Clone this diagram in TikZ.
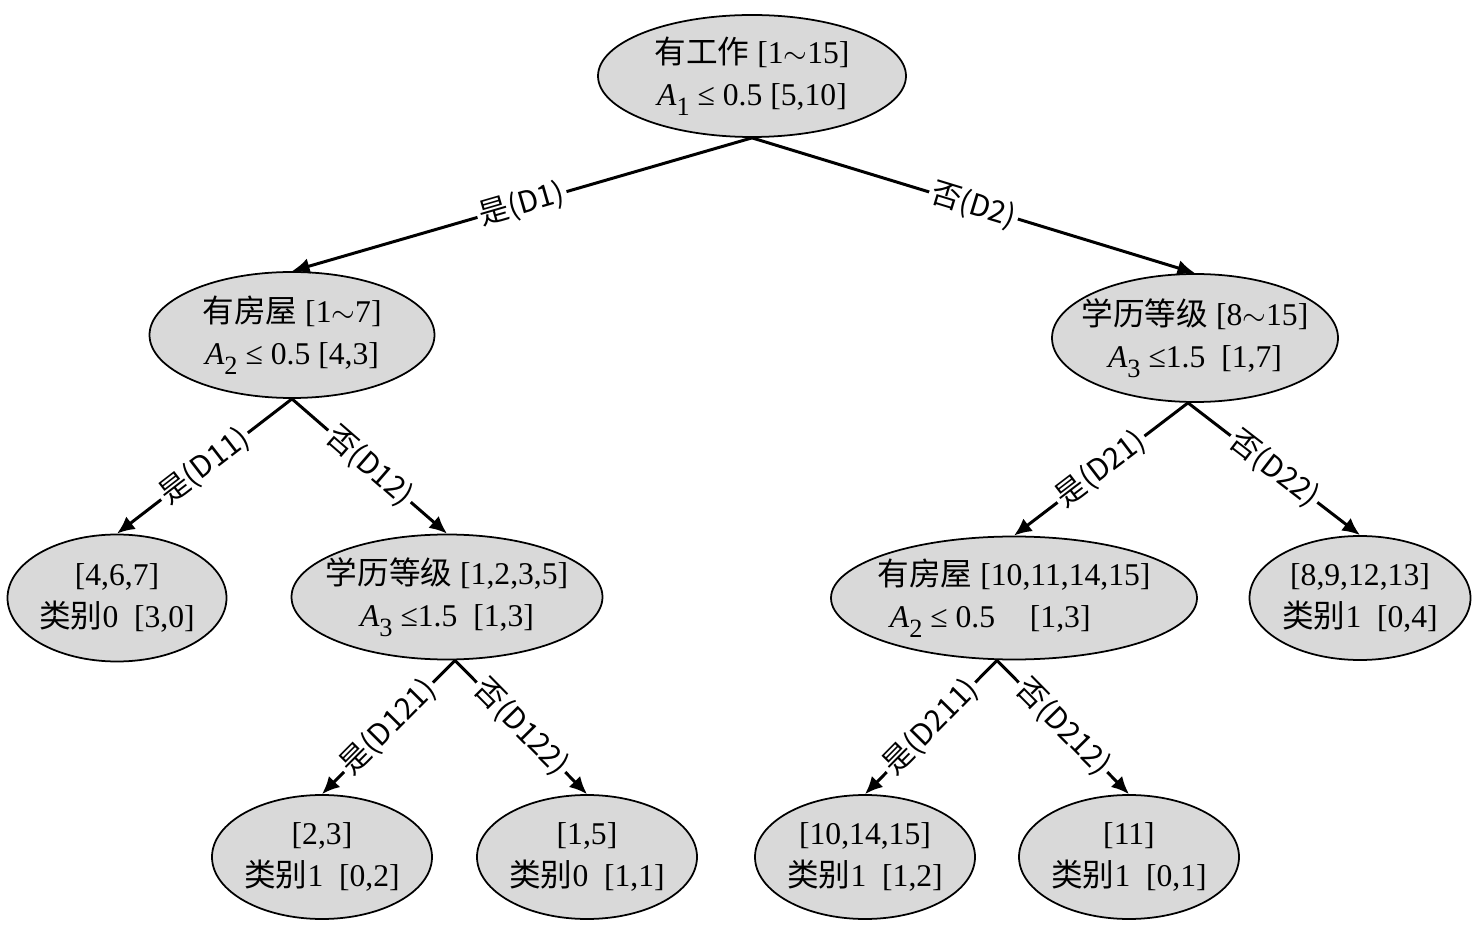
\documentclass[tikz,border=0pt]{standalone}
\usepackage{fontspec}
\setmainfont{Liberation Serif}
\newfontfamily\cjk{Noto Sans CJK SC}
\usetikzlibrary{arrows.meta,shapes.geometric}
\definecolor{nodegray}{RGB}{217,217,217}
\newcommand{\attr}[1]{{\itshape A}\raisebox{-0.3em}{\fontsize{15}{15}\selectfont #1}}

\begin{document}
\begin{tikzpicture}[
  ell/.style={ellipse, draw, line width=1pt, fill=nodegray, inner sep=0pt},
  txt/.style={align=center, inner sep=0pt, font=\fontsize{18}{24}\selectfont},
  link/.style={line width=1.7pt, -{Latex[length=10pt,width=9pt]}},
  cond/.style={sloped, fill=white, inner sep=1.5pt, font=\cjk\fontsize{17}{20}\selectfont}]
\useasboundingbox (0,0) rectangle (29.64,-18.6);

% Nodes
\node[ell, minimum width=6.16cm, minimum height=2.44cm,
  label={[txt]center:{{\cjk 有工作} [1$\sim$15]\\\attr{1} ≤ 0.5 [5,10]}}] (root) at (15.04,-1.52) {};
\node[ell, minimum width=5.70cm, minimum height=2.52cm,
  label={[txt]center:{{\cjk 有房屋} [1$\sim$7]\\\attr{2} ≤ 0.5 [4,3]}}] (d1) at (5.84,-6.70) {};
\node[ell, minimum width=5.72cm, minimum height=2.56cm,
  label={[txt]center:{{\cjk 学历等级} [8$\sim$15]\\\attr{3} ≤1.5\ \ [1,7]}}] (d2) at (23.90,-6.76) {};
\node[ell, minimum width=4.38cm, minimum height=2.54cm,
  label={[txt]center:{[4,6,7]\\{\cjk 类别}0\ \ [3,0]}}] (d11) at (2.34,-11.96) {};
\node[ell, minimum width=6.22cm, minimum height=2.50cm,
  label={[txt]center:{{\cjk 学历等级} [1,2,3,5]\\\attr{3} ≤1.5\ \ [1,3]}}] (d12) at (8.94,-11.94) {};
\node[ell, minimum width=7.32cm, minimum height=2.46cm,
  label={[txt]center:{{\cjk 有房屋} [10,11,14,15]\\\attr{2} ≤ 0.5\hspace{1.1em}[1,3]\hspace*{1.5em}}}] (d21) at (20.28,-11.96) {};
\node[ell, minimum width=4.42cm, minimum height=2.48cm,
  label={[txt]center:{[8,9,12,13]\\{\cjk 类别}1\ \ [0,4]}}] (d22) at (27.20,-11.96) {};
\node[ell, minimum width=4.40cm, minimum height=2.48cm,
  label={[txt]center:{[2,3]\\{\cjk 类别}1\ \ [0,2]}}] (d121) at (6.44,-17.14) {};
\node[ell, minimum width=4.40cm, minimum height=2.48cm,
  label={[txt]center:{[1,5]\\{\cjk 类别}0\ \ [1,1]}}] (d122) at (11.74,-17.14) {};
\node[ell, minimum width=4.40cm, minimum height=2.48cm,
  label={[txt]center:{[10,14,15]\\{\cjk 类别}1\ \ [1,2]}}] (d211) at (17.30,-17.14) {};
\node[ell, minimum width=4.40cm, minimum height=2.48cm,
  label={[txt]center:{[11]\\{\cjk 类别}1\ \ [0,1]}}] (d212) at (22.58,-17.14) {};

% Links
\draw[link] (root.south) -- node[cond] {是(D1)} (d1.north); % root --> d1
\draw[link] (root.south) -- node[cond] {否(D2)} (d2.north); % root --> d2
\draw[link] (d1.south) -- node[cond] {是(D11)} (d11.north); % d1 --> d11
\draw[link] (d1.south) -- node[cond] {否(D12)} (d12.north); % d1 --> d12
\draw[link] ([xshift=-0.14cm]d2.south) -- node[cond] {是(D21)} (d21.north); % d2 --> d21
\draw[link] ([xshift=-0.14cm]d2.south) -- node[cond] {否(D22)} (d22.north); % d2 --> d22
\draw[link] ([xshift=0.16cm]d12.south) -- node[cond] {是(D121)} (d121.north); % d12 --> d121
\draw[link] ([xshift=0.16cm]d12.south) -- node[cond] {否(D122)} (d122.north); % d12 --> d122
\draw[link] ([xshift=-0.34cm]d21.south) -- node[cond] {是(D211)} (d211.north); % d21 --> d211
\draw[link] ([xshift=-0.34cm]d21.south) -- node[cond] {否(D212)} (d212.north); % d21 --> d212

\end{tikzpicture}
\end{document}
